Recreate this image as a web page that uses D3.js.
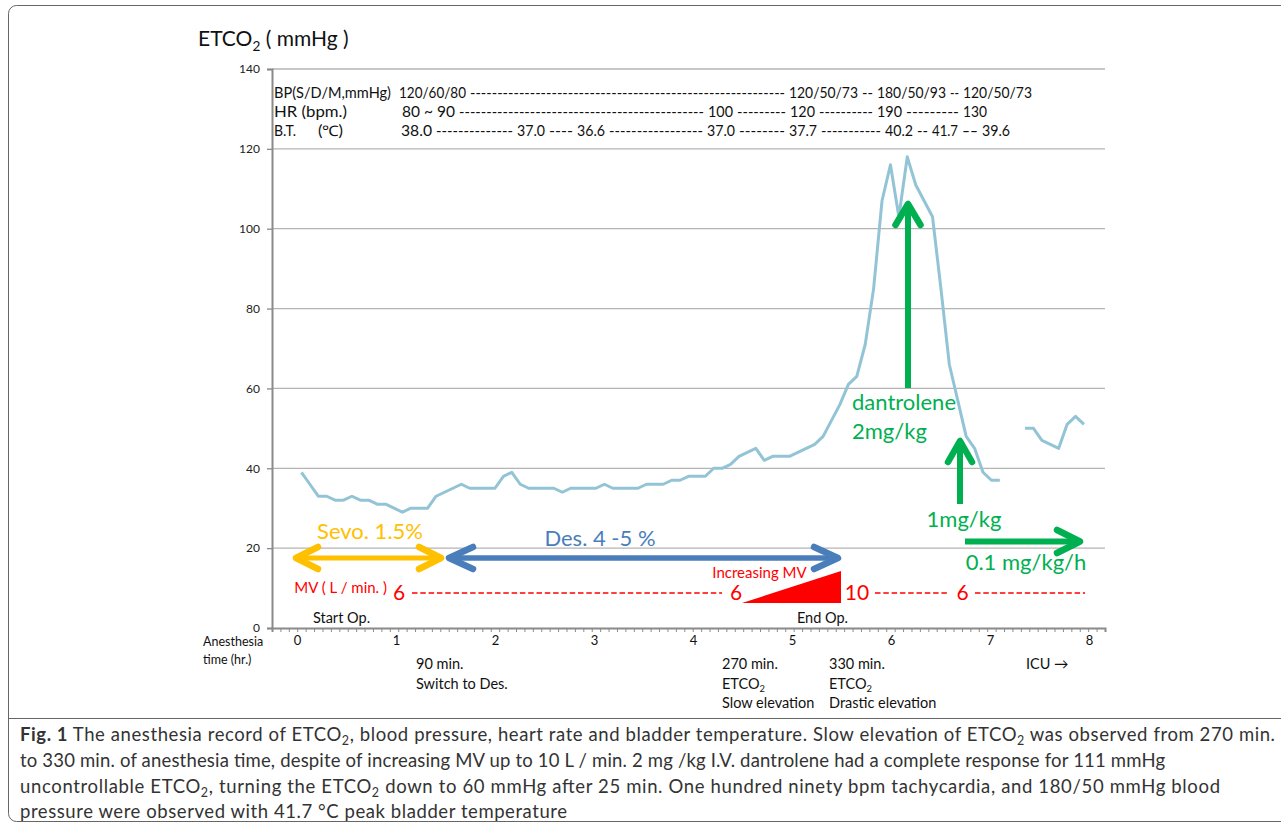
<!DOCTYPE html>
<html>
<head>
<meta charset="utf-8">
<script src="https://cdn.jsdelivr.net/npm/d3@7"></script>
<style>
  body { margin: 0; background: #fff; }
  text { font-family: Lato, "Open Sans", sans-serif; }
</style>
</head>
<body>
<svg id="chart" width="1281" height="829"></svg>
<script>
// ETCO2 (mmHg) read every 5 min of anesthesia time
const minutes = [0,5,10,15,20,25,30,35,40,45, 50,55,60,65,70,75,80,85,90,95,
  100,105,110,115,120,125,130,135,140,145, 150,155,160,165,170,175,180,185,190,195,
  200,205,210,215,220,225,230,235,240,245, 250,255,260,265,270,275,280,285,290,295,
  300,305,310,315,320,325,330,335,340,345, 350,355,360,365,370,375,380,385,390,395,
  400,405,410,415];
const etco2 = [39,36,33,33,32,32,33,32,32,31, 31,30,29,30,30,30,33,34,35,36,
  35,35,35,35,38,39,36,35,35,35, 35,34,35,35,35,35,36,35,35,35,
  35,36,36,36,37,37,38,38,38,40, 40,41,43,44,45,42,43,43,43,44,
  45,46,48,52,56,61,63,71,85,107, 116,103,118,111,107,103,85,66,57,48,
  45,39,37,37];
// after transfer to ICU
const icuMinutes = [430,435,440,445,450,455,460,465];
const icuEtco2 = [50,50,47,46,45,51,53,51];

const yTicks = [0,20,40,60,80,100,120,140];
const hourTicks = [0,1,2,3,4,5,6,7,8];

// vital signs header
const bpLabels = ["120/60/80","120/50/73","180/50/93","120/50/73"];
const hrLabels = ["80 ~ 90","100","120","190","130"];
const btLabels = ["38.0","37.0","36.6","37.0","37.7","40.2","41.7","39.6"];

const svg = d3.select("#chart");

// figure frame
svg.append("rect").attr("x",8.5).attr("y",5.5).attr("width",1300).attr("height",816)
  .attr("rx",8).attr("fill","none").attr("stroke","#666");
svg.append("line").attr("x1",8.5).attr("x2",1281).attr("y1",718.5).attr("y2",718.5)
  .attr("stroke","#666");

// scales: one category per 5 min, axis starts 3 slots before time 0
const x = d3.scaleLinear().domain([-17.5, 477.5]).range([272, 1105]);
const y = d3.scaleLinear().domain([0, 140]).range([628, 69]);
const hr = d3.scaleLinear().domain([0, 8]).range([297, 1089]);

// grid
svg.append("g").selectAll("line").data(yTicks.slice(1)).join("line")
  .attr("x1", 272).attr("x2", 1105)
  .attr("y1", d => y(d)).attr("y2", d => y(d))
  .attr("stroke", "#b4b4b4").attr("stroke-width", 1.3);

// y axis
const ya = svg.append("g").attr("transform", "translate(272,0)")
  .call(d3.axisLeft(y).tickValues(yTicks).tickSize(5).tickPadding(7));
ya.select(".domain").attr("stroke", "#8a8a8a").attr("stroke-width", 2);
ya.selectAll(".tick line").attr("stroke", "#8a8a8a").attr("stroke-width", 1.3);
ya.selectAll(".tick text").attr("font-family", "Lato").attr("font-size", 12).attr("fill", "#222");

// x axis with 5-min category ticks
const xa = svg.append("g").attr("transform", "translate(0,628)")
  .call(d3.axisBottom(x).tickValues(d3.range(-17.5, 480, 5)).tickSize(4).tickFormat(""));
xa.select(".domain").attr("stroke", "#8a8a8a").attr("stroke-width", 2);
xa.selectAll(".tick line").attr("stroke", "#8a8a8a");

const ha = svg.append("g").attr("transform", "translate(0,628)")
  .call(d3.axisBottom(hr).tickValues(hourTicks).tickSize(0).tickPadding(7.5).tickFormat(d3.format("d")));
ha.select(".domain").remove();
ha.selectAll(".tick text").attr("font-family", "Lato").attr("font-size", 13).attr("fill", "#111");

// ETCO2 line
const line = d3.line().x(d => x(d[0])).y(d => y(d[1]));
[d3.zip(minutes, etco2), d3.zip(icuMinutes, icuEtco2)].forEach(seg => {
  svg.append("path").attr("d", line(seg))
    .attr("fill", "none").attr("stroke", "#93c4d6").attr("stroke-width", 3)
    .attr("stroke-linejoin", "round");
});

// text helper: cy = visual centre of caps
function label(str, xx, cy, o) {
  const fs = o.size || 14;
  const t = svg.append("text").attr("x", xx).attr("y", cy + 0.36 * fs)
    .attr("font-size", fs).attr("fill", o.color || "#111")
    .attr("text-anchor", o.anchor || "start").text(str);
  if (o.len) t.attr("textLength", o.len).attr("lengthAdjust", "spacingAndGlyphs");
  return t;
}
function co2(xx, cy, o, post) {
  const fs = o.size;
  const t = svg.append("text").attr("x", xx).attr("y", cy + 0.36 * fs)
    .attr("font-size", fs).attr("fill", o.color || "#111");
  t.append("tspan").text("ETCO");
  t.append("tspan").attr("font-size", fs * 0.65).attr("dy", fs * 0.22).text("2");
  if (post) t.append("tspan").attr("dy", -fs * 0.22).text(post);
  return t;
}

co2(198, 38.5, {size: 21}, " ( mmHg )");

// header rows: values with dash runs between them
function headerRow(name, nameSpan, labels, spans, cy) {
  const fs = 14.5;
  label(name, nameSpan[0], cy, {size: fs, len: nameSpan[1] - nameSpan[0]});
  labels.forEach((s, i) => {
    label(s, spans[i][0], cy, {size: fs, len: spans[i][1] - spans[i][0]});
    if (i < labels.length - 1) {
      const a = spans[i][1] + 4, b = spans[i + 1][0] - 4;
      label("-".repeat(Math.max(2, Math.floor((b - a) / 5.4))), a, cy, {size: fs, len: b - a});
    }
  });
}
headerRow("BP(S/D/M,mmHg)", [274, 391], bpLabels,
  [[399,466],[789,858],[877,946],[963,1032]], 92.5);
headerRow("HR  (bpm.)", [274, 347], hrLabels,
  [[402,455],[708,733],[790,815],[877,902],[963,987]], 111.5);
headerRow("B.T.", [274, 296], btLabels,
  [[401,432],[517,545],[577,605],[707,735],[789,817],[885,913],[932,958],[982,1010]], 130.5);
label("(\u2103)", 318, 130.5, {size: 14.5, len: 25});

// arrows
function arrow(x1, y1, x2, y2, o) {
  const L = Math.hypot(x2 - x1, y2 - y1), ux = (x2 - x1) / L, uy = (y2 - y1) / L;
  svg.append("line").attr("x1", x1).attr("y1", y1).attr("x2", x2).attr("y2", y2)
    .attr("stroke", o.color).attr("stroke-width", o.w);
  const head = (tx, ty, ux, uy) => svg.append("path")
    .attr("d", `M${tx - ux * o.back - uy * o.half},${ty - uy * o.back + ux * o.half}L${tx},${ty}` +
               `L${tx - ux * o.back + uy * o.half},${ty - uy * o.back - ux * o.half}`)
    .attr("fill", "none").attr("stroke", o.color).attr("stroke-width", o.hw)
    .attr("stroke-linecap", "round").attr("stroke-linejoin", "round");
  head(x2, y2, ux, uy);
  if (o.both) head(x1, y1, -ux, -uy);
}
const orange = "#ffc000", blue = "#4a7ebb", green = "#00b050", red = "#ff0000";

arrow(296, 558, 441, 558, {color: orange, w: 5, hw: 6.5, back: 22, half: 11, both: true});
arrow(449, 558, 838, 558, {color: blue, w: 5.5, hw: 6.5, back: 24, half: 11, both: true});
label("Sevo. 1.5%", 370, 531.5, {size: 22, color: orange, anchor: "middle"});
label("Des. 4 -5 %", 600, 538, {size: 22, color: blue, anchor: "middle"});

arrow(908, 388, 908, 204, {color: green, w: 6, hw: 6.5, back: 21, half: 12.5});
arrow(960, 504, 960, 441, {color: green, w: 6, hw: 6.5, back: 21, half: 12});
arrow(965, 541.5, 1080, 541.5, {color: green, w: 6, hw: 6.5, back: 23, half: 11.5});
label("dantrolene", 852, 402.5, {size: 22, color: green});
label("2mg/kg", 852, 431.5, {size: 22, color: green});
label("1mg/kg", 964, 519, {size: 22, color: green, anchor: "middle"});
label("0.1 mg/kg/h", 1026, 562.5, {size: 22, color: green, anchor: "middle"});

// minute ventilation
label("MV ( L / min. )", 387, 588, {size: 15, color: red, anchor: "end"});
label("6", 399, 592.5, {size: 21, color: red, anchor: "middle"});
label("6", 736, 592.5, {size: 21, color: red, anchor: "middle"});
label("10", 857, 592.5, {size: 21, color: red, anchor: "middle"});
label("6", 962.5, 592.5, {size: 21, color: red, anchor: "middle"});
[[412, 722], [875, 947], [975, 1085]].forEach(([a, b]) => {
  svg.append("line").attr("x1", a).attr("x2", b).attr("y1", 593).attr("y2", 593)
    .attr("stroke", red).attr("stroke-width", 1.6).attr("stroke-dasharray", "5.5,2.8");
});
svg.append("path").attr("d", "M742,603L841,571L841,603Z").attr("fill", red);
label("Increasing MV", 759.5, 573, {size: 15, color: red, anchor: "middle"});

label("Start Op.", 341.5, 618, {size: 14.5, anchor: "middle"});
label("End Op.", 822.5, 618, {size: 14.5, anchor: "middle"});

// x axis notes
label("Anesthesia", 203, 641.5, {size: 12.5});
label("time (hr.)", 203, 659, {size: 12.5});
label("90 min.", 416, 664, {size: 14.5});
label("Switch to Des.", 416, 684, {size: 14.5});
label("270 min.", 722, 664, {size: 14.5});
co2(722, 684, {size: 14.5});
label("Slow elevation", 722, 703, {size: 14.5});
label("330 min.", 829, 664, {size: 14.5});
co2(829, 684, {size: 14.5});
label("Drastic elevation", 829, 703, {size: 14.5});
label("ICU \u2192", 1026, 664, {size: 14.5});

// caption ("s" = subscript)
const capLines = [
  [["b", "Fig. 1"], ["", " The anesthesia record of ETCO"], ["s", "2"], ["", ", blood pressure, heart rate and bladder temperature. Slow elevation of ETCO"], ["s", "2"], ["", " was observed from 270 min."]],
  [["", "to 330 min. of anesthesia time, despite of increasing MV up to 10 L / min. 2 mg /kg I.V. dantrolene had a complete response for 111 mmHg"]],
  [["", "uncontrollable ETCO"], ["s", "2"], ["", ", turning the ETCO"], ["s", "2"], ["", " down to 60 mmHg after 25 min. One hundred ninety bpm tachycardia, and 180/50 mmHg blood"]],
  [["", "pressure were observed with 41.7 \u00b0C peak bladder temperature"]]
];
const capWidths = [1255, 1145, 1200, 547];
capLines.forEach((parts, i) => {
  const t = svg.append("text").attr("x", 20).attr("y", 741 + i * 25.8)
    .attr("font-family", "Open Sans").attr("font-size", 18.5).attr("fill", "#333")
    .attr("textLength", capWidths[i]).attr("lengthAdjust", "spacing");
  let shifted = false;
  parts.forEach(([k, s]) => {
    const ts = t.append("tspan").text(s);
    if (k === "b") ts.attr("font-weight", "bold");
    if (k === "s") { ts.attr("font-size", 12.5).attr("dy", 4); shifted = true; }
    else if (shifted) { ts.attr("dy", -4); shifted = false; }
  });
});
</script>
</body>
</html>
